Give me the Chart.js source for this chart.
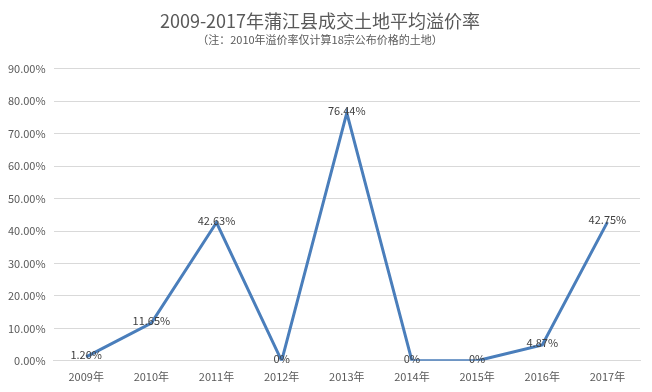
<!DOCTYPE html>
<html>
<head>
<meta charset="utf-8">
<script src="https://cdn.jsdelivr.net/npm/chart.js@4/dist/chart.umd.min.js"></script>
<style>
  html, body { margin: 0; padding: 0; background: #fff; }
  #wrap { width: 652px; height: 392px; position: relative; }
</style>
</head>
<body>
<div id="wrap"><canvas id="myChart"></canvas></div>
<script>
const years = ['2009年', '2010年', '2011年', '2012年', '2013年', '2014年', '2015年', '2016年', '2017年']
const premiumRate = [1.20, 11.65, 42.63, 0, 76.44, 0, 0, 4.87, 42.75]
const pointLabels = ['1.20%', '11.65%', '42.63%', '0%', '76.44%', '0%', '0%', '4.87%', '42.75%']

const fontFamily = '"Noto Sans CJK SC", "Liberation Sans", sans-serif'

// labels drawn on top of each point
const valueLabels = {
    id: 'valueLabels',
    afterDatasetsDraw(chart) {
        const ctx = chart.ctx
        const meta = chart.getDatasetMeta(0)
        ctx.save()
        ctx.font = '11px ' + fontFamily
        ctx.fillStyle = '#404040'
        ctx.textAlign = 'center'
        ctx.textBaseline = 'middle'
        meta.data.forEach((pt, i) => {
            ctx.fillText(pointLabels[i], pt.x, pt.y - 2)
        })
        ctx.restore()
    }
}

new Chart(document.getElementById('myChart'), {
    type: 'line',
    data: {
        labels: years,
        datasets: [{
            data: premiumRate,
            borderColor: '#4a7ebb',
            borderWidth: 3,
            pointRadius: 0,
            tension: 0,
            fill: false
        }]
    },
    plugins: [valueLabels],
    options: {
        responsive: true,
        maintainAspectRatio: false,
        animation: false,
        layout: { padding: { left: 0, right: 12, top: 4, bottom: 8 } },
        plugins: {
            legend: { display: false },
            tooltip: { enabled: false },
            title: {
                display: true,
                text: '2009-2017年蒲江县成交土地平均溢价率',
                color: '#595959',
                font: { family: fontFamily, size: 18, weight: 'normal' },
                padding: { top: 6, bottom: 2 }
            },
            subtitle: {
                display: true,
                text: '（注：2010年溢价率仅计算18宗公布价格的土地）',
                color: '#595959',
                font: { family: fontFamily, size: 11, weight: 'normal' },
                padding: { top: 0, bottom: 22 }
            }
        },
        scales: {
            x: {
                offset: true,
                grid: { display: false },
                border: { display: true, color: '#d9d9d9' },
                ticks: {
                    color: '#595959',
                    font: { family: fontFamily, size: 11 },
                    padding: 1
                }
            },
            y: {
                min: 0,
                max: 90,
                ticks: {
                    stepSize: 10,
                    color: '#595959',
                    font: { family: fontFamily, size: 11 },
                    padding: 8,
                    callback: v => v.toFixed(2) + '%'
                },
                grid: { color: '#d9d9d9', drawTicks: false },
                border: { display: false }
            }
        }
    }
})
</script>
</body>
</html>
